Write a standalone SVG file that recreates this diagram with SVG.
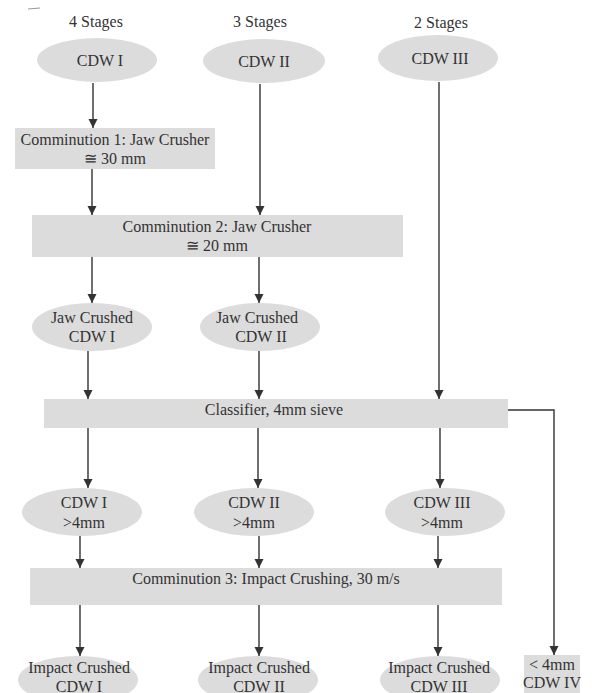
<svg xmlns="http://www.w3.org/2000/svg" width="592" height="693" viewBox="0 0 592 693">
  <style>
    text { font-family: "Liberation Serif", "Times New Roman", serif; font-size: 16px; fill: #333; text-anchor: middle; }
    .node { fill: #dcdcdc; stroke: none; }
    .edge { fill: none; stroke: #333; stroke-width: 1.4; }
  </style>
  <defs>
    <marker id="arrow" markerUnits="userSpaceOnUse" markerWidth="10" markerHeight="10" viewBox="0 0 10 10" refX="9" refY="5" orient="auto">
      <path d="M0,0.5 L9,5 L0,9.5 z" fill="#333"/>
    </marker>
  </defs>
  <rect width="592" height="693" fill="#fff"/>

  <!-- stray mark -->
  <line x1="28" y1="9" x2="40" y2="8" stroke="#999" stroke-width="1"/>

  <!-- column headings -->
  <g id="headings">
    <text x="96" y="27">4 Stages</text>
    <text x="260" y="27">3 Stages</text>
    <text x="441" y="28">2 Stages</text>
  </g>

  <g id="cdw1"><ellipse class="node" cx="97" cy="60" rx="60" ry="22"/><text x="100" y="66">CDW I</text></g>
  <g id="cdw2"><ellipse class="node" cx="264" cy="61" rx="61" ry="22"/><text x="264" y="67">CDW II</text></g>
  <g id="cdw3"><ellipse class="node" cx="438" cy="58" rx="60" ry="23"/><text x="440" y="64">CDW III</text></g>

  <g id="comm1"><rect class="node" x="15" y="128" width="200" height="41"/>
    <text x="115" y="145">Comminution 1: Jaw Crusher</text>
    <text x="115" y="164">≅ 30 mm</text></g>

  <g id="comm2"><rect class="node" x="32" y="215" width="371" height="42"/>
    <text x="217" y="232">Comminution 2: Jaw Crusher</text>
    <text x="217" y="251">≅ 20 mm</text></g>

  <g id="jaw1"><ellipse class="node" cx="92" cy="327" rx="60" ry="24"/>
    <text x="92" y="323">Jaw Crushed</text><text x="92" y="342">CDW I</text></g>
  <g id="jaw2"><ellipse class="node" cx="260" cy="327" rx="60" ry="24"/>
    <text x="257" y="323">Jaw Crushed</text><text x="261" y="342">CDW II</text></g>

  <g id="classifier"><rect class="node" x="44" y="399" width="464" height="29"/>
    <text x="274" y="415">Classifier, 4mm sieve</text></g>

  <g id="over1"><ellipse class="node" cx="82" cy="512" rx="60" ry="24"/>
    <text x="84" y="508">CDW I</text><text x="84" y="528">&gt;4mm</text></g>
  <g id="over2"><ellipse class="node" cx="254" cy="512" rx="60" ry="24"/>
    <text x="254" y="508">CDW II</text><text x="254" y="528">&gt;4mm</text></g>
  <g id="over3"><ellipse class="node" cx="445" cy="512" rx="60" ry="24"/>
    <text x="442" y="508">CDW III</text><text x="442" y="528">&gt;4mm</text></g>

  <g id="comm3"><rect class="node" x="30" y="568" width="472" height="37"/>
    <text x="266" y="584">Comminution 3: Impact Crushing, 30 m/s</text></g>

  <g id="impact1"><ellipse class="node" cx="78" cy="680" rx="60" ry="24"/>
    <text x="79" y="673">Impact Crushed</text><text x="79" y="692">CDW I</text></g>
  <g id="impact2"><ellipse class="node" cx="258" cy="680" rx="60" ry="24"/>
    <text x="259" y="673">Impact Crushed</text><text x="259" y="692">CDW II</text></g>
  <g id="impact3"><ellipse class="node" cx="440" cy="680" rx="60" ry="24"/>
    <text x="439" y="673">Impact Crushed</text><text x="439" y="692">CDW III</text></g>

  <g id="fines"><rect class="node" x="524" y="655" width="56" height="38"/>
    <text x="552" y="670">&lt; 4mm</text><text x="552" y="688">CDW IV</text></g>

  <g id="connectors">
    <line class="edge" x1="93" y1="83" x2="93" y2="128" marker-end="url(#arrow)"/>
    <line class="edge" x1="260" y1="84" x2="260" y2="215" marker-end="url(#arrow)"/>
    <line class="edge" x1="439" y1="82" x2="439" y2="399" marker-end="url(#arrow)"/>
    <line class="edge" x1="92" y1="169" x2="92" y2="215" marker-end="url(#arrow)"/>
    <line class="edge" x1="92" y1="257" x2="92" y2="303" marker-end="url(#arrow)"/>
    <line class="edge" x1="259" y1="257" x2="259" y2="303" marker-end="url(#arrow)"/>
    <line class="edge" x1="88" y1="351" x2="88" y2="399" marker-end="url(#arrow)"/>
    <line class="edge" x1="259" y1="351" x2="259" y2="399" marker-end="url(#arrow)"/>
    <line class="edge" x1="88" y1="428" x2="88" y2="488" marker-end="url(#arrow)"/>
    <line class="edge" x1="258" y1="428" x2="258" y2="488" marker-end="url(#arrow)"/>
    <line class="edge" x1="440" y1="428" x2="440" y2="488" marker-end="url(#arrow)"/>
    <polyline class="edge" points="508,410 554,410 554,655" marker-end="url(#arrow)"/>
    <line class="edge" x1="80" y1="536" x2="80" y2="568" marker-end="url(#arrow)"/>
    <line class="edge" x1="259" y1="536" x2="259" y2="568" marker-end="url(#arrow)"/>
    <line class="edge" x1="438" y1="536" x2="438" y2="568" marker-end="url(#arrow)"/>
    <line class="edge" x1="80" y1="605" x2="80" y2="656" marker-end="url(#arrow)"/>
    <line class="edge" x1="259" y1="605" x2="259" y2="656" marker-end="url(#arrow)"/>
    <line class="edge" x1="438" y1="605" x2="438" y2="656" marker-end="url(#arrow)"/>
  </g>
</svg>
